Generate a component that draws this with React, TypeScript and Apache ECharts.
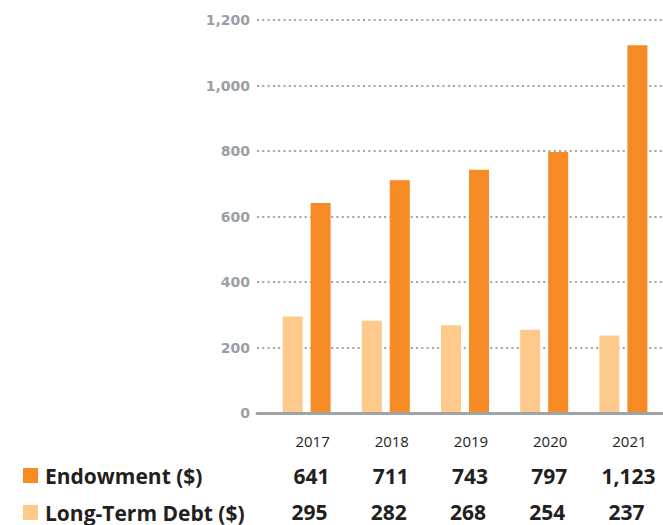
import React, { useEffect, useRef } from "react";
import * as echarts from "echarts";

const years = ["2017", "2018", "2019", "2020", "2021"];
const endowment = [641, 711, 743, 797, 1123];
const longTermDebt = [295, 282, 268, 254, 237];
const yMin = 0;
const yMax = 1200;
const yInterval = 200;

const ORANGE = "#f68a25";
const LIGHT = "#fdca8b";
const GRAY = "#9ea3a7";
const TEXT = "#231f20";

const fmt = (v: number) => v.toLocaleString("en-US");

export default function App() {
  const ref = useRef<HTMLDivElement>(null);
  useEffect(() => {
    document.body.style.margin = "0";
    if (!ref.current) return;
    const chart = echarts.init(ref.current, null, { renderer: "svg" });
    const tableLabel = {
      fontFamily: "Open Sans",
      fontWeight: 700,
      fontSize: 21,
      color: TEXT,
      margin: 0,
    };
    const legendBase = {
      left: 23,
      padding: 0,
      icon: "rect",
      itemWidth: 15,
      itemHeight: 15,
      textStyle: {
        fontFamily: "Open Sans",
        fontWeight: 700,
        fontSize: 21,
        color: TEXT,
        padding: [0, 0, 0, 2],
      },
    };
    chart.setOption({
      animation: false,
      grid: [
        { left: 257, right: -6, top: 20, bottom: 112 },
        { left: 267, width: 398, top: 20, bottom: 112 },
      ],
      legend: [
        { ...legendBase, top: 465, data: ["Endowment ($)"] },
        { ...legendBase, top: 502, data: ["Long-Term Debt ($)"] },
      ],
      xAxis: [
        {
          gridIndex: 0,
          type: "value",
          min: 0,
          max: 1,
          z: 5,
          axisLine: { show: true, lineStyle: { color: GRAY, width: 3 } },
          axisTick: { show: false },
          axisLabel: { show: false },
          splitLine: { show: false },
        },
        {
          gridIndex: 1,
          type: "category",
          data: years,
          axisLine: { show: false },
          axisTick: { show: false },
          axisLabel: {
            fontFamily: "Open Sans",
            fontSize: 15,
            color: TEXT,
            margin: 20,
            padding: [0, 0, 0, 12],
          },
        },
        {
          gridIndex: 1,
          type: "category",
          position: "bottom",
          offset: 52,
          data: endowment.map(fmt),
          axisLine: { show: false },
          axisTick: { show: false },
          axisLabel: { ...tableLabel, padding: [0, 0, 0, 10] },
        },
        {
          gridIndex: 1,
          type: "category",
          position: "bottom",
          offset: 88,
          data: longTermDebt.map(fmt),
          axisLine: { show: false },
          axisTick: { show: false },
          axisLabel: { ...tableLabel, padding: [0, 0, 0, 6] },
        },
      ],
      yAxis: [
        {
          gridIndex: 0,
          type: "value",
          min: yMin,
          max: yMax,
          interval: yInterval,
          axisLine: { show: false },
          axisTick: { show: false },
          axisLabel: {
            formatter: (v: number) => fmt(v),
            fontFamily: "DejaVu Sans",
            fontWeight: "bold",
            fontSize: 14,
            color: "#9aa0a5",
            margin: 7,
          },
          splitLine: {
            show: true,
            lineStyle: { color: GRAY, width: 2, type: [2, 3.3] },
          },
        },
        {
          gridIndex: 1,
          type: "value",
          min: yMin,
          max: yMax,
          interval: yInterval,
          show: false,
          splitLine: { show: false },
        },
      ],
      series: [
        {
          name: "Long-Term Debt ($)",
          type: "bar",
          xAxisIndex: 1,
          yAxisIndex: 1,
          data: longTermDebt,
          barWidth: 20,
          barGap: "40%",
          itemStyle: { color: LIGHT },
        },
        {
          name: "Endowment ($)",
          type: "bar",
          xAxisIndex: 1,
          yAxisIndex: 1,
          data: endowment,
          barWidth: 20,
          barGap: "40%",
          itemStyle: { color: ORANGE },
        },
      ],
    });
    return () => chart.dispose();
  }, []);
  return <div ref={ref} style={{ width: 663, height: 525 }} />;
}
